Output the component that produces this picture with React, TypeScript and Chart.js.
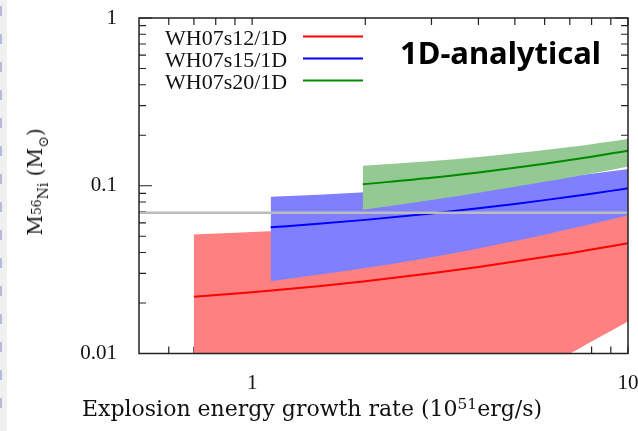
import React, { useEffect, useRef } from "react";
import { Chart, registerables } from "chart.js";

Chart.register(...registerables);

// ---------------- data ----------------
const legendLabels = ["WH07s12/1D", "WH07s15/1D", "WH07s20/1D"];
const panelLabel = "1D-analytical";

const xTickLabels = [1, 10];
const yTickLabels = [0.01, 0.1, 1];
const xMinorTicks = [0.6, 0.7, 0.8, 0.9, 2, 3, 4, 5, 6, 7, 8, 9];
const yMinorTicks = [0.02, 0.03, 0.04, 0.05, 0.06, 0.07, 0.08, 0.09, 0.2, 0.3, 0.4, 0.5, 0.6, 0.7, 0.8, 0.9];

const xRange = [0.5, 10];
const yRange = [0.01, 1];

const redX = [0.7, 1, 1.5, 2, 3, 4, 5, 6, 7, 8, 9, 10];
const redMid = [0.0218, 0.0232, 0.0252, 0.027, 0.0301, 0.0328, 0.0353, 0.0376, 0.0396, 0.0417, 0.0436, 0.0454];
const redHigh = [0.0513, 0.053, 0.055, 0.0565, 0.059, 0.061, 0.063, 0.065, 0.067, 0.069, 0.071, 0.073];
const redLow = [0.002, 0.0025, 0.003, 0.004, 0.005, 0.0062, 0.0075, 0.0087, 0.01, 0.0118, 0.0136, 0.0155];

const blueX = [1.12, 1.5, 2, 3, 4, 5, 6, 7, 8, 9, 10];
const blueMid = [0.0565, 0.0593, 0.0626, 0.0683, 0.0734, 0.0779, 0.0821, 0.086, 0.0897, 0.0932, 0.0966];
const blueHigh = [0.086, 0.0885, 0.0915, 0.097, 0.102, 0.106, 0.11, 0.114, 0.118, 0.122, 0.126];
const blueLow = [0.027, 0.0295, 0.0323, 0.0375, 0.0423, 0.0468, 0.0511, 0.0552, 0.0592, 0.063, 0.0668];

const greenX = [1.97, 3, 4, 5, 6, 7, 8, 9, 10];
const greenMid = [0.1021, 0.1116, 0.1201, 0.128, 0.1354, 0.1424, 0.1491, 0.1555, 0.1618];
const greenHigh = [0.1317, 0.1403, 0.1484, 0.1561, 0.1633, 0.1703, 0.177, 0.1835, 0.1898];
const greenLow = [0.0719, 0.0822, 0.0908, 0.0985, 0.1055, 0.1121, 0.1182, 0.1241, 0.1297];

const refX = [0.5, 10];
const refY = [0.069, 0.069];

// ---------------- styles ----------------
const lineColors = ["#ff0000", "#0000ff", "#008a00"];
const fillColors = ["#ff8080", "#8080ff", "#94c994"];
const refColor = "#bcbcbc";
const axisColor = "#222222";

const pts = (xs: number[], ys: number[]) => xs.map((x, i) => ({ x, y: ys[i] }));

const lineDs = (label: string, xs: number[], ys: number[], color: string, order: number) => ({
  label,
  data: pts(xs, ys),
  borderColor: color,
  borderWidth: 2,
  pointRadius: 0,
  fill: false,
  cubicInterpolationMode: "monotone" as const,
  order,
});

const bandDs = (xs: number[], ys: number[], fillTo: number | false, color: string, order: number) => ({
  label: "",
  data: pts(xs, ys),
  borderColor: "rgba(0,0,0,0)",
  borderWidth: 1,
  pointRadius: 0,
  backgroundColor: color,
  fill: fillTo === false ? false : { target: fillTo },
  cubicInterpolationMode: "monotone" as const,
  order,
});

const decorPlugin = {
  id: "decor",
  beforeDatasetsDraw(chart: any) {
    const { ctx, chartArea: a, scales } = chart;
    const xs = scales.x;
    const ys = scales.y;
    ctx.save();
    ctx.strokeStyle = axisColor;
    ctx.lineWidth = 1.2;
    ctx.beginPath();
    const tickX = (v: number, len: number) => {
      const p = xs.getPixelForValue(v);
      ctx.moveTo(p, a.bottom);
      ctx.lineTo(p, a.bottom - len);
      ctx.moveTo(p, a.top);
      ctx.lineTo(p, a.top + len);
    };
    const tickY = (v: number, len: number) => {
      const p = ys.getPixelForValue(v);
      ctx.moveTo(a.left, p);
      ctx.lineTo(a.left + len, p);
      ctx.moveTo(a.right, p);
      ctx.lineTo(a.right - len, p);
    };
    xMinorTicks.forEach((v) => tickX(v, 7));
    xTickLabels.forEach((v) => tickX(v, 7));
    yMinorTicks.forEach((v) => tickY(v, 7));
    yTickLabels.forEach((v) => tickY(v, 13));
    ctx.stroke();
    ctx.restore();
  },
  afterDatasetsDraw(chart: any) {
    const { ctx, chartArea: a } = chart;
    ctx.save();
    ctx.strokeStyle = axisColor;
    ctx.lineWidth = 1.5;
    ctx.strokeRect(a.left, a.top, a.right - a.left, a.bottom - a.top);
    ctx.restore();
  },
  afterDraw(chart: any) {
    const { ctx } = chart;
    ctx.save();
    ctx.font = '22px "Liberation Serif"';
    ctx.textBaseline = "alphabetic";
    ctx.textAlign = "left";
    legendLabels.forEach((lab, i) => {
      const y = 37 + i * 22;
      ctx.fillStyle = "#111";
      ctx.fillText(lab, 165, y + 7.5);
      ctx.strokeStyle = lineColors[i];
      ctx.lineWidth = 2;
      ctx.beginPath();
      ctx.moveTo(303, y - 0.5);
      ctx.lineTo(363, y - 0.5);
      ctx.stroke();
    });
    ctx.font = 'bold 31px "Noto Sans"';
    ctx.fillStyle = "#000";
    ctx.fillText(panelLabel, 400, 63.5);
    ctx.restore();
  },
};

export default function App() {
  const ref = useRef<HTMLCanvasElement | null>(null);

  useEffect(() => {
    if (!ref.current) return;
    const datasets: any[] = [
      lineDs("ref", refX, refY, refColor, 0),
      lineDs(legendLabels[2], greenX, greenMid, lineColors[2], 1),
      bandDs(greenX, greenHigh, 3, fillColors[2], 1),
      bandDs(greenX, greenLow, false, fillColors[2], 1),
      lineDs(legendLabels[1], blueX, blueMid, lineColors[1], 2),
      bandDs(blueX, blueHigh, 6, fillColors[1], 2),
      bandDs(blueX, blueLow, false, fillColors[1], 2),
      lineDs(legendLabels[0], redX, redMid, lineColors[0], 3),
      bandDs(redX, redHigh, 9, fillColors[0], 3),
      bandDs(redX, redLow, false, fillColors[0], 3),
    ];
    datasets[0].borderWidth = 2.5;
    datasets[0].cubicInterpolationMode = "default";

    const tickFont = { family: '"Liberation Serif", serif', size: 21 };
    const chart = new Chart(ref.current, {
      type: "line",
      data: { datasets },
      options: {
        animation: false,
        responsive: false,
        maintainAspectRatio: false,
        events: [],
        layout: { padding: { top: 18, right: 10, left: 0, bottom: 0 } },
        plugins: {
          legend: { display: false },
          tooltip: { enabled: false },
          filler: { propagate: false },
        },
        scales: {
          x: {
            type: "logarithmic",
            position: "bottom",
            min: xRange[0],
            max: xRange[1],
            grid: { display: false },
            border: { display: false },
            afterBuildTicks: (s: any) => {
              s.ticks = xTickLabels.map((v) => ({ value: v }));
            },
            afterFit: (s: any) => {
              s.height = 77.5;
              s.paddingLeft = 0;
              s.paddingRight = 0;
            },
            ticks: {
              autoSkip: false,
              maxRotation: 0,
              padding: 9,
              color: "#111",
              font: tickFont,
              callback: (v: any) => String(v),
            },
          },
          y: {
            type: "logarithmic",
            position: "left",
            min: yRange[0],
            max: yRange[1],
            grid: { display: false },
            border: { display: false },
            afterBuildTicks: (s: any) => {
              s.ticks = yTickLabels.map((v) => ({ value: v }));
            },
            afterFit: (s: any) => {
              s.width = 139;
              s.paddingTop = 0;
              s.paddingBottom = 0;
            },
            ticks: {
              autoSkip: false,
              padding: 14,
              color: "#111",
              font: tickFont,
              callback: (v: any) => String(v),
            },
          },
        },
      },
      plugins: [decorPlugin],
    } as any);
    return () => chart.destroy();
  }, []);

  return (
    <div
      style={{
        position: "fixed",
        left: 0,
        top: 0,
        width: 638,
        height: 431,
        background: "#ffffff",
        overflow: "hidden",
      }}
    >
      <div
        style={{
          position: "absolute",
          left: 0,
          top: 0,
          width: 7,
          height: 431,
          background: "#f0f0f0",
        }}
      />
      <div
        style={{
          position: "absolute",
          left: 0,
          top: 6,
          width: 2,
          height: 410,
          background: "repeating-linear-gradient(to bottom, #b4bcdc 0px, #b4bcdc 10px, transparent 10px, transparent 28px)",
        }}
      />
      <canvas
        ref={ref}
        width={638}
        height={431}
        style={{ position: "absolute", left: 0, top: 0, width: 638, height: 431 }}
      />
      <div
        style={{
          position: "absolute",
          left: 82,
          top: 398,
          fontFamily: '"DejaVu Serif", serif',
          fontSize: 22,
          lineHeight: "22px",
          color: "#111",
          whiteSpace: "nowrap",
        }}
      >
        Explosion energy growth rate (10
        <sup style={{ fontSize: "0.7em", verticalAlign: "0.45em", lineHeight: 0 }}>51</sup>
        erg/s)
      </div>
      <div
        style={{
          position: "absolute",
          left: 35,
          top: 182,
          transform: "translate(-50%, -50%) rotate(-90deg)",
          fontFamily: '"DejaVu Serif", serif',
          fontSize: 20,
          lineHeight: "20px",
          color: "#111",
          whiteSpace: "nowrap",
        }}
      >
        M
        <span style={{ fontSize: "0.62em", verticalAlign: "0.12em", lineHeight: 0 }}>56</span>
        <span style={{ fontSize: "0.7em", verticalAlign: "-0.4em", lineHeight: 0 }}>Ni</span>
        {" (M"}
        <span style={{ fontSize: "0.7em", verticalAlign: "-0.4em", lineHeight: 0 }}>⊙</span>
        )
      </div>
    </div>
  );
}
